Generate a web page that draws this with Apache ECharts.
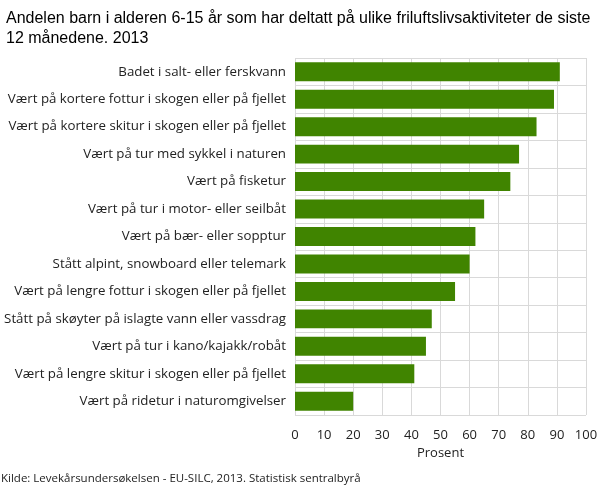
<!DOCTYPE html>
<html lang="no">
<head>
    <meta charset="UTF-8">
    <title>Friluftslivsaktiviteter barn 2013</title>
    <script src="https://cdn.jsdelivr.net/npm/echarts@6/dist/echarts.min.js"></script>
</head>
<style>
    html, body { margin: 0; padding: 0; width: 100%; height: 100%; background: #fff; }
    #main { width: 609px; height: 489px; }
</style>
<body>
    <div id="main"></div>
    <script>
        // aktiviteter, ovenfra og ned
        var aktiviteter = [
            'Badet i salt- eller ferskvann',
            'Vært på kortere fottur i skogen eller på fjellet',
            'Vært på kortere skitur i skogen eller på fjellet',
            'Vært på tur med sykkel i naturen',
            'Vært på fisketur',
            'Vært på tur i motor- eller seilbåt',
            'Vært på bær- eller sopptur',
            'Stått alpint, snowboard eller telemark',
            'Vært på lengre fottur i skogen eller på fjellet',
            'Stått på skøyter på islagte vann eller vassdrag',
            'Vært på tur i kano/kajakk/robåt',
            'Vært på lengre skitur i skogen eller på fjellet',
            'Vært på ridetur i naturomgivelser'
        ];
        // prosent
        var andel = [91, 89, 83, 77, 74, 65, 62, 60, 55, 47, 45, 41, 20];
        var xTicks = [0, 10, 20, 30, 40, 50, 60, 70, 80, 90, 100];

        var grid = '#d9d9d9';
        var font = '"Open Sans", sans-serif';

        var myChart = echarts.init(document.getElementById('main'));
        myChart.setOption({
            backgroundColor: '#fff',
            animation: false,
            title: {
                text: 'Andelen barn i alderen 6-15 år som har deltatt på ulike friluftslivsaktiviteter de siste\n12 månedene. 2013',
                left: 1,
                top: 4,
                textStyle: {
                    fontFamily: '"Liberation Sans Narrow", sans-serif',
                    fontSize: 16,
                    fontWeight: 'normal',
                    color: '#000',
                    lineHeight: 20
                }
            },
            graphic: [{
                type: 'text',
                left: 1,
                top: 473,
                style: {
                    text: 'Kilde: Levekårsundersøkelsen - EU-SILC, 2013. Statistisk sentralbyrå',
                    font: '11.5px ' + font,
                    fill: '#222'
                }
            }],
            grid: { left: 295, right: 23, top: 58, bottom: 74 },
            xAxis: {
                type: 'value',
                min: 0,
                max: 100,
                interval: 10,
                name: 'Prosent',
                nameLocation: 'middle',
                nameGap: 32,
                nameTextStyle: { fontFamily: font, fontSize: 13, color: '#222' },
                axisLine: { show: false },
                axisTick: { show: false },
                axisLabel: {
                    margin: 14,
                    fontFamily: font, fontSize: 13, color: '#222',
                    formatter: function (v) { return xTicks.indexOf(v) >= 0 ? String(v) : ''; }
                },
                splitLine: { show: true, lineStyle: { color: grid, width: 1 } }
            },
            yAxis: {
                type: 'category',
                inverse: true,
                data: aktiviteter,
                axisLine: { show: false },
                axisTick: { show: false },
                axisLabel: { margin: 9, fontFamily: font, fontSize: 13.3, color: '#222' },
                splitLine: { show: true, lineStyle: { color: grid, width: 1 } }
            },
            series: [{
                type: 'bar',
                data: andel,
                barCategoryGap: '31%',
                itemStyle: { color: '#408400' }
            }]
        });
    </script>
</body>
</html>
